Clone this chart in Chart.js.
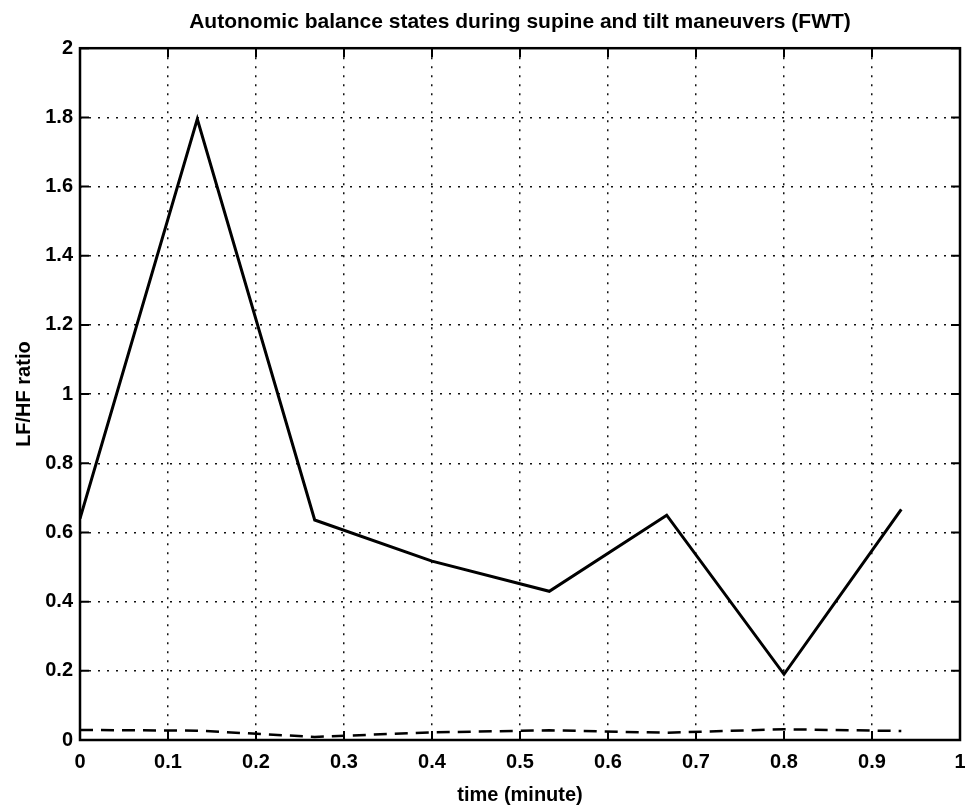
<!DOCTYPE html>
<html>
<head>
<meta charset="utf-8">
<script src="https://cdn.jsdelivr.net/npm/chart.js@4.4.0/dist/chart.umd.min.js"></script>
<style>
  html, body { margin: 0; padding: 0; background: #fff; }
  #wrap { width: 965px; height: 805px; }
</style>
</head>
<body>
<div id="wrap"><canvas id="chart" width="965" height="805"></canvas></div>
<script>
// sample times (minute) and LF/HF ratio
const timeMin = [0, 0.1333, 0.2667, 0.4, 0.5333, 0.6667, 0.8, 0.9333];
const lfhfSolid = [0.64, 1.795, 0.636, 0.517, 0.43, 0.65, 0.19, 0.667];
const lfhfDashed = [0.029, 0.027, 0.009, 0.022, 0.028, 0.021, 0.031, 0.026];

const xTicks = [0, 0.1, 0.2, 0.3, 0.4, 0.5, 0.6, 0.7, 0.8, 0.9, 1];
const yTicks = [0, 0.2, 0.4, 0.6, 0.8, 1, 1.2, 1.4, 1.6, 1.8, 2];

const FONT = '"Liberation Sans", Arial, Helvetica, sans-serif';

function toPoints(xs, ys) {
  return xs.map((x, i) => ({x: x, y: ys[i]}));
}

// matlab style box with inward ticks on all four sides
const boxTicks = {
  id: 'boxTicks',
  afterDatasetsDraw(chart) {
    const ctx = chart.ctx;
    const a = chart.chartArea;
    const xs = chart.scales.x, ys = chart.scales.y;
    const len = 9;
    ctx.save();
    ctx.strokeStyle = '#000';
    ctx.lineWidth = 2;
    ctx.beginPath();
    xTicks.forEach(v => {
      const px = xs.getPixelForValue(v);
      ctx.moveTo(px, a.bottom); ctx.lineTo(px, a.bottom - len);
      ctx.moveTo(px, a.top); ctx.lineTo(px, a.top + len);
    });
    yTicks.forEach(v => {
      const py = ys.getPixelForValue(v);
      ctx.moveTo(a.left, py); ctx.lineTo(a.left + len, py);
      ctx.moveTo(a.right, py); ctx.lineTo(a.right - len, py);
    });
    ctx.stroke();
    ctx.lineWidth = 2.5;
    ctx.strokeRect(a.left, a.top, a.right - a.left, a.bottom - a.top);
    ctx.restore();
  }
};

const ctx = document.getElementById('chart').getContext('2d');
new Chart(ctx, {
  type: 'line',
  data: {
    datasets: [
      {
        data: toPoints(timeMin, lfhfSolid),
        borderColor: '#000',
        borderWidth: 3,
        pointRadius: 0,
        tension: 0
      },
      {
        data: toPoints(timeMin, lfhfDashed),
        borderColor: '#000',
        borderWidth: 2.5,
        borderDash: [13, 8],
        pointRadius: 0,
        tension: 0
      }
    ]
  },
  options: {
    responsive: false,
    animation: false,
    layout: {padding: {left: 0, right: 5, top: 0, bottom: 0}},
    plugins: {
      legend: {display: false},
      tooltip: {enabled: false},
      title: {
        display: true,
        text: 'Autonomic balance states during supine and tilt maneuvers (FWT)',
        color: '#000',
        fullSize: false,
        font: {family: FONT, size: 21, weight: 'bold', lineHeight: 1.2},
        padding: {top: 10, bottom: 13}
      }
    },
    scales: {
      x: {
        type: 'linear',
        min: 0,
        max: 1,
        afterBuildTicks: s => { s.ticks = xTicks.map(v => ({value: v})); },
        afterFit: s => { s.height = 65; s.paddingLeft = 0; s.paddingRight = 0; },
        ticks: {
          color: '#000',
          padding: 10,
          maxRotation: 0,
          font: {family: FONT, size: 20, weight: 'bold'},
          callback: v => String(Math.round(v * 10) / 10)
        },
        grid: {color: '#111', lineWidth: 1.5, drawTicks: false},
        border: {display: false, dash: [2, 7]},
        title: {
          display: true,
          text: 'time (minute)',
          color: '#000',
          font: {family: FONT, size: 20, weight: 'bold', lineHeight: 1},
          padding: {top: 0, bottom: 0}
        }
      },
      y: {
        type: 'linear',
        min: 0,
        max: 2,
        afterBuildTicks: s => { s.ticks = yTicks.map(v => ({value: v})); },
        afterFit: s => { s.width = 80; },
        ticks: {
          color: '#000',
          padding: 7,
          font: {family: FONT, size: 20, weight: 'bold'},
          callback: v => String(Math.round(v * 10) / 10)
        },
        grid: {color: '#111', lineWidth: 1.5, drawTicks: false},
        border: {display: false, dash: [2, 7]},
        title: {
          display: true,
          text: 'LF/HF ratio',
          color: '#000',
          font: {family: FONT, size: 20, weight: 'bold', lineHeight: 1},
          padding: {top: 14, bottom: 0}
        }
      }
    }
  },
  plugins: [boxTicks]
});
</script>
</body>
</html>
